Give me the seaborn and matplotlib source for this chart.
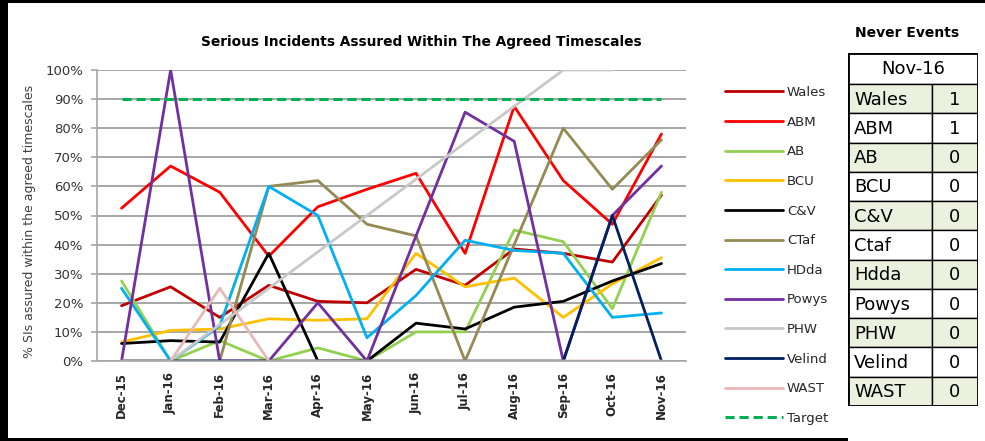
import numpy as np
import pandas as pd
import matplotlib
matplotlib.use("Agg")
import matplotlib.pyplot as plt
from matplotlib.patches import Rectangle
from matplotlib.lines import Line2D
import seaborn as sns

months = ["Dec-15", "Jan-16", "Feb-16", "Mar-16", "Apr-16", "May-16",
          "Jun-16", "Jul-16", "Aug-16", "Sep-16", "Oct-16", "Nov-16"]

wales = [19, 25.5, 15, 26, 20.5, 20, 31.5, 26, 38.5, 37, 34, 57]
abm = [52.5, 67, 58, 36, 53, 59, 64.5, 37, 87.5, 62, 47, 78]
ab = [27.5, 0, 7, 0, 4.5, 0, 10, 10, 45, 41, 18, 58]
bcu = [6.5, 10.5, 11, 14.5, 14, 14.5, 37, 25.5, 28.5, 15, 26.5, 35.5]
cv = [6, 7, 6.5, 37, 0, 0, 13, 11, 18.5, 20.5, 27.5, 33.5]
ctaf = [0, 0, 0, 60, 62, 47, 43, 0, 40, 80, 59, 76]
hdda = [25, 0, 12, 60, 50, 8, 22.5, 41.5, 38, 37, 15, 16.5]
powys = [0, 100, 0, 0, 20, 0, 43, 85.5, 75.5, 0, 50, 67]
phw = [0, 0, 12.5, 25, 37.5, 50, 62.5, 75, 87.5, 100, 100, np.nan]
velind = [0, 0, 0, 0, 0, 0, 0, 0, 0, 0, 50, 0]
wast = [0, 0, 25, 0, 0, 0, 0, 0, 0, 0, 0, 0]
target = [90] * 12

series_names = ["Wales", "ABM", "AB", "BCU", "C&V", "CTaf", "HDda",
                "Powys", "PHW", "Velind", "WAST"]
series_values = [wales, abm, ab, bcu, cv, ctaf, hdda, powys, phw, velind, wast]
series_colors = ["#C00000", "#FF0000", "#92D050", "#FFC000", "#000000",
                 "#948A54", "#00B0F0", "#7030A0", "#C8C8C8", "#002060",
                 "#E6B9B8"]

never_names = ["Wales", "ABM", "AB", "BCU", "C&V", "Ctaf", "Hdda",
               "Powys", "PHW", "Velind", "WAST"]
never_counts = [1, 1, 0, 0, 0, 0, 0, 0, 0, 0, 0]
never_month = "Nov-16"

sns.set_theme(style="white")
plt.rcParams["font.family"] = ["DejaVu Sans"]

W, H = 985, 441
fig = plt.figure(figsize=(W / 100, H / 100), dpi=100)


def fbox(x0, y0, x1, y1):
    """Pixel box (top-left origin) -> figure fraction rect."""
    return [x0 / W, 1 - y1 / H, (x1 - x0) / W, (y1 - y0) / H]


ax = fig.add_axes(fbox(97, 70, 686, 361))

rows = []
for name, vals in zip(series_names, series_values):
    for i, v in enumerate(vals):
        rows.append({"idx": i, "value": v, "series": name})
df = pd.DataFrame(rows)

sns.lineplot(data=df, x="idx", y="value", hue="series",
             hue_order=series_names, palette=series_colors,
             sort=False, linewidth=2.0, ax=ax, legend=False)

df_t = pd.DataFrame({"idx": range(len(months)), "value": target})
sns.lineplot(data=df_t, x="idx", y="value", color="#00B050",
             linewidth=2.2, linestyle=(0, (3, 1.6)), ax=ax, legend=False)

ax.set_xlim(-0.5, len(months) - 0.5)
ax.set_ylim(0, 100)
ax.set_xlabel("")
ax.set_ylabel("% SIs assured within the agreed timescales",
              fontsize=9, color="#404040")
ax.yaxis.set_label_coords(-0.103, 0.478)

yt = list(range(0, 101, 10))
ax.set_yticks(yt)
ax.set_yticklabels([f"{v}%" for v in yt], fontsize=9.5, color="#333333")
ax.yaxis.grid(True, color="#A6A6A6", linewidth=1.4)
ax.set_axisbelow(True)

ax.set_xticks(range(len(months)))
ax.set_xticklabels(months, rotation=90, fontsize=8.5, color="#262626",
                   fontweight="semibold")
ax.set_xticks(np.arange(-0.5, len(months), 1.0), minor=True)
ax.tick_params(axis="x", which="major", length=0, pad=8)
ax.tick_params(axis="x", which="minor", length=5, width=1.2,
               color="#A6A6A6", direction="out")
ax.tick_params(axis="y", length=4, width=1.2, color="#A6A6A6",
               direction="out", pad=6, left=True)

for side in ["top", "right"]:
    ax.spines[side].set_visible(False)
for side in ["left", "bottom"]:
    ax.spines[side].set_color("#A6A6A6")
    ax.spines[side].set_linewidth(1.2)

fig.text(421 / W, 1 - 42 / H,
         "Serious Incidents Assured Within The Agreed Timescales",
         ha="center", va="center", fontsize=9.9, fontweight="bold",
         color="#000000")

# legend
handles = [Line2D([], [], color=c, linewidth=2.0) for c in series_colors]
handles.append(Line2D([], [], color="#00B050", linewidth=2.2,
                      linestyle=(0, (3, 1.6))))
labels = series_names + ["Target"]
fig.legend(handles, labels, loc="upper left",
           bbox_to_anchor=(725 / W, 1 - 86 / H), frameon=False,
           fontsize=9.5, handlelength=4.4, handletextpad=0.3,
           labelspacing=1.26, borderaxespad=0, borderpad=0,
           labelcolor="#262626")

# table of never events
tax = fig.add_axes(fbox(848, 53, 978, 406))
tax.set_xlim(0, 130)
tax.set_ylim(353, 0)
tax.axis("off")
header_h = 31
row_h = (353 - header_h) / len(never_names)
split = 84
tax.add_patch(Rectangle((0, 0), 130, header_h, facecolor="white",
                        edgecolor="black", linewidth=1.0))
tax.text(65, header_h / 2 + 1, never_month, ha="center", va="center",
         fontsize=13, color="black")
for i, (nm, cnt) in enumerate(zip(never_names, never_counts)):
    y0 = header_h + i * row_h
    fc = "#EBF1DE" if i % 2 == 0 else "white"
    tax.add_patch(Rectangle((0, y0), split, row_h, facecolor=fc,
                            edgecolor="black", linewidth=1.0))
    tax.add_patch(Rectangle((split, y0), 130 - split, row_h, facecolor=fc,
                            edgecolor="black", linewidth=1.0))
    tax.text(6, y0 + row_h / 2 + 1, nm, ha="left", va="center",
             fontsize=13, color="black")
    tax.text(split + (130 - split) / 2, y0 + row_h / 2 + 1, str(cnt),
             ha="center", va="center", fontsize=13, color="black")
tax.add_patch(Rectangle((0, 0), 130, 353, facecolor="none",
                        edgecolor="black", linewidth=2.0))

fig.text(907 / W, 1 - 33 / H, "Never Events", ha="center", va="center",
         fontsize=10, fontweight="bold", color="black")

# outer frame of the chart panel
frame_kw = dict(transform=fig.transFigure, facecolor="black",
                edgecolor="none", zorder=10)
fig.patches.append(Rectangle((0, 0), 8 / W, 1, **frame_kw))
fig.patches.append(Rectangle((0, 1 - 3 / H), 1, 3 / H, **frame_kw))
fig.patches.append(Rectangle((0, 0), 848 / W, 3 / H, **frame_kw))

fig.savefig("out.png", dpi=100)
